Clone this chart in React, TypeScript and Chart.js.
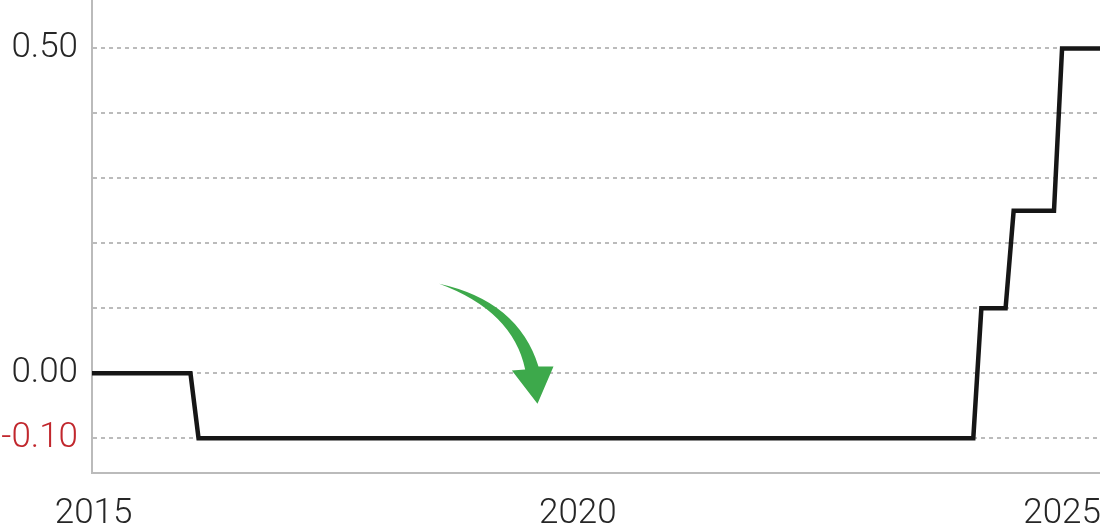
import { useEffect, useRef } from "react";
import { Chart, registerables } from "chart.js";

Chart.register(...registerables);

// ---- data (policy rate, %) ----
const MONTHS = ["2014-12", "2016-01", "2016-02", "2024-02", "2024-03", "2024-06", "2024-07", "2024-12", "2025-01", "2025-06"];
const RATES = [0, 0, -0.1, -0.1, 0.1, 0.1, 0.25, 0.25, 0.5, 0.5];
const X_TICK_YEARS = ["2015", "2020", "2025"];
const Y_GRID_VALUES = [-0.1, 0, 0.1, 0.2, 0.3, 0.4, 0.5];
const Y_TICK_LABELS = ["-0.10", "0.00", "0.50"];
const Y_RED_LABELS = ["-0.10"];

// annotation anchor (data coordinates)
const ARROW_TIP_MONTH = "2019-08";
const ARROW_TIP_VALUE = -0.047;

const monthIndex = (s: string) => {
  const [yy, mm] = s.split("-").map(Number);
  return (yy - 2015) * 12 + (mm - 1);
};

const FONT = "Roboto, 'Noto Sans', sans-serif";
const TEXT = "#262626";
const RED = "#c1272d";
const GRID = "#bbbbbb";
const GREEN = "#3da94b";

const arrowPlugin = {
  id: "curvedArrow",
  afterDatasetsDraw(chart: any) {
    const { ctx, scales } = chart;
    const tx = scales.x.getPixelForValue(monthIndex(ARROW_TIP_MONTH));
    const ty = scales.y.getPixelForValue(ARROW_TIP_VALUE);
    ctx.save();
    ctx.translate(tx, ty);
    ctx.beginPath();
    ctx.moveTo(-98.3, -120);
    ctx.quadraticCurveTo(-19.35, -102.75, 1, -37.3);
    ctx.lineTo(16, -37.3);
    ctx.lineTo(0, 0);
    ctx.lineTo(-25.6, -33.3);
    ctx.lineTo(-12.3, -34.3);
    ctx.quadraticCurveTo(-24.7, -92.85, -98.3, -120);
    ctx.closePath();
    ctx.fillStyle = GREEN;
    ctx.fill();
    ctx.restore();
  },
};

export default function App() {
  const ref = useRef<HTMLCanvasElement | null>(null);

  useEffect(() => {
    if (!ref.current) return;
    const chart = new Chart(ref.current, {
      type: "line",
      data: {
        datasets: [
          {
            data: MONTHS.map((m, i) => ({ x: monthIndex(m), y: RATES[i] })),
            borderColor: "#161616",
            borderWidth: 4.5,
            borderJoinStyle: "miter",
            pointRadius: 0,
            tension: 0,
            fill: false,
            clip: 0,
          } as any,
        ],
      },
      options: {
        animation: false,
        responsive: false,
        devicePixelRatio: 1,
        layout: { padding: 0 },
        plugins: { legend: { display: false }, tooltip: { enabled: false } },
        scales: {
          x: {
            type: "linear",
            min: -0.2,
            max: 124.7,
            grid: { display: false },
            border: { display: true, color: GRID, width: 2 },
            afterBuildTicks: (scale: any) => {
              scale.ticks = X_TICK_YEARS.map((yr) => ({ value: monthIndex(yr + "-01") }));
            },
            afterFit: (scale: any) => {
              scale.height = 53;
              scale.paddingLeft = 0;
              scale.paddingRight = 0;
            },
            ticks: {
              autoSkip: false,
              maxRotation: 0,
              padding: 12,
              color: TEXT,
              font: { family: FONT, size: 35, weight: 300 as any },
              callback: (value: any) => {
                const yr = X_TICK_YEARS.find((y) => monthIndex(y + "-01") === value);
                return yr ?? "";
              },
            },
          },
          y: {
            type: "linear",
            min: -0.1535,
            max: 0.5746,
            grid: { color: GRID, lineWidth: 2, drawTicks: false },
            border: { display: true, color: GRID, width: 2, dash: [4, 4] },
            afterBuildTicks: (scale: any) => {
              scale.ticks = Y_GRID_VALUES.map((v) => ({ value: v }));
            },
            afterFit: (scale: any) => {
              scale.width = 92;
              scale.paddingTop = 0;
              scale.paddingBottom = 0;
            },
            ticks: {
              padding: 14,
              autoSkip: false,
              color: (c: any) => (Y_RED_LABELS.includes(Number(c.tick.value).toFixed(2)) ? RED : TEXT),
              font: { family: FONT, size: 35, weight: 300 as any },
              callback: (value: any) => {
                const s = Number(value).toFixed(2);
                return Y_TICK_LABELS.includes(s) ? s : "";
              },
            },
          },
        },
      },
      plugins: [arrowPlugin],
    });
    return () => chart.destroy();
  }, []);

  return (
    <div style={{ position: "absolute", left: 0, top: 0, width: 1100, height: 526, background: "#fff" }}>
      <canvas ref={ref} width={1100} height={526} />
    </div>
  );
}
